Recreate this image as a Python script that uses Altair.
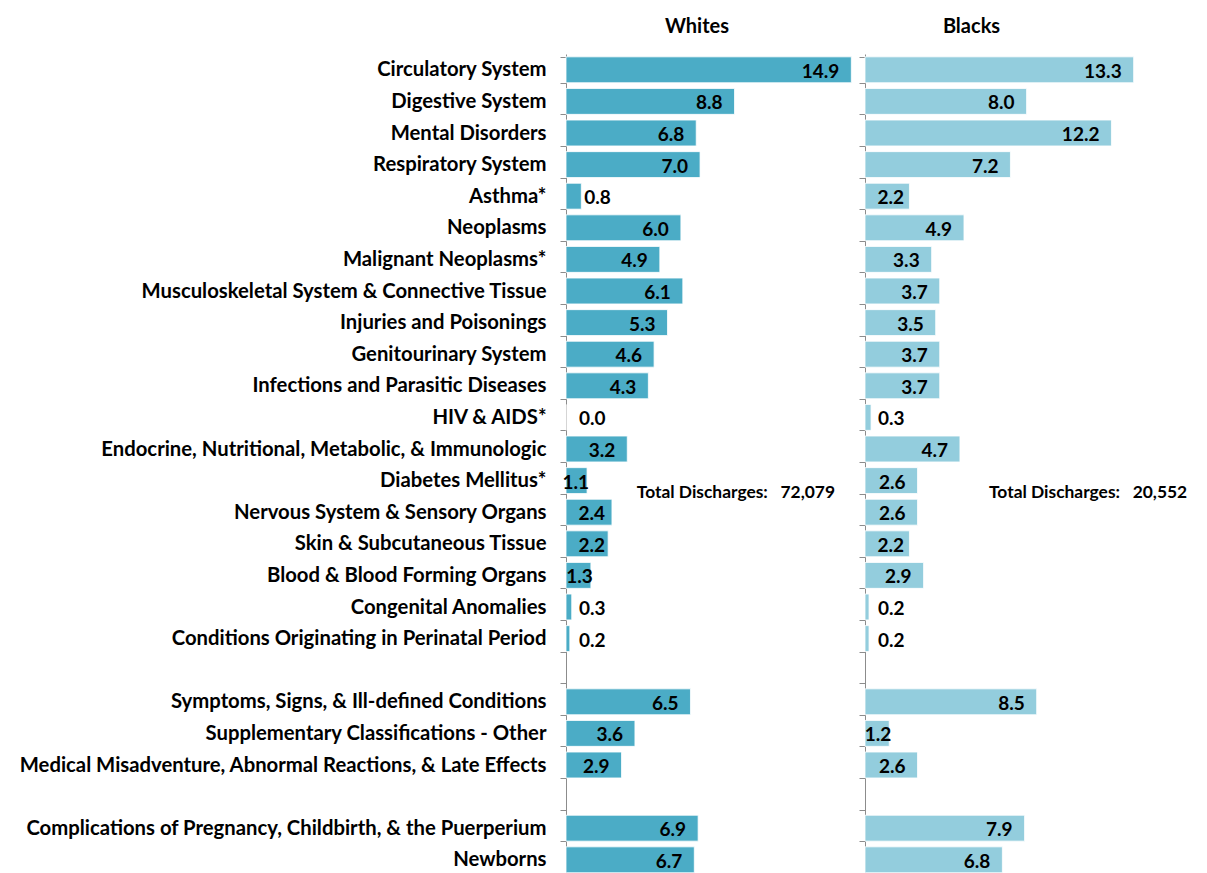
import altair as alt
import pandas as pd

FONT = "Lato"

rows = [
    "Circulatory System", "Digestive System", "Mental Disorders", "Respiratory System",
    "Asthma*", "Neoplasms", "Malignant Neoplasms*",
    "Musculoskeletal System & Connective Tissue", "Injuries and Poisonings",
    "Genitourinary System", "Infections and Parasitic Diseases", "HIV & AIDS*",
    "Endocrine, Nutritional, Metabolic, & Immunologic", "Diabetes Mellitus*",
    "Nervous System & Sensory Organs", "Skin & Subcutaneous Tissue",
    "Blood & Blood Forming Organs", "Congenital Anomalies",
    "Conditions Originating in Perinatal Period", " ",
    "Symptoms, Signs, & Ill-defined Conditions", "Supplementary Classifications - Other",
    "Medical Misadventure, Abnormal Reactions, & Late Effects", "  ",
    "Complications of Pregnancy, Childbirth, & the Puerperium", "Newborns",
]
categories = [r for r in rows if r.strip()]
whites = [14.9, 8.8, 6.8, 7.0, 0.8, 6.0, 4.9, 6.1, 5.3, 4.6, 4.3, 0.0, 3.2, 1.1,
          2.4, 2.2, 1.3, 0.3, 0.2, 6.5, 3.6, 2.9, 6.9, 6.7]
blacks = [13.3, 8.0, 12.2, 7.2, 2.2, 4.9, 3.3, 3.7, 3.5, 3.7, 3.7, 0.3, 4.7, 2.6,
          2.6, 2.2, 2.9, 0.2, 0.2, 8.5, 1.2, 2.6, 7.9, 6.8]
totals = {"Whites": "72,079", "Blacks": "20,552"}

df = pd.DataFrame({"cat": categories, "Whites": whites, "Blacks": blacks})

STEP = 31.6


def panel(col, color, width, ppu, total_x, title_dx, title_dy, show_labels):
    dmax = width / ppu
    yaxis = alt.Axis(
        title=None, labels=show_labels, ticks=True, tickBand="extent", tickSize=6,
        tickColor="#8c8c8c", domainColor="#8c8c8c", domainWidth=1, tickWidth=1,
        labelFont=FONT, labelFontSize=20.3, labelFontWeight="bold", labelColor="#000000",
        labelPadding=14, labelLimit=800,
    )
    y = alt.Y("cat:N", scale=alt.Scale(domain=rows, paddingInner=0.18, paddingOuter=0.09),
              axis=yaxis, sort=rows)
    xscale = alt.Scale(domain=[0, dmax], nice=False, zero=True)
    base = alt.Chart(df).transform_calculate(v=f"datum['{col}']")
    bars = base.mark_bar(color=color, stroke="#ffffff", strokeWidth=0.8).encode(
        x=alt.X("v:Q", scale=xscale, axis=None), y=y)
    tprops = dict(font=FONT, fontSize=19, fontWeight="bold", color="#000000", baseline="middle", dy=2)
    big = base.transform_filter("datum.v >= 2").transform_calculate(
        lx=f"max(datum.v - {12 / ppu}, {39 / ppu})").mark_text(align="right", **tprops).encode(
        x=alt.X("lx:Q", scale=xscale, axis=None), y=y, text=alt.Text("v:Q", format=".1f"))
    mid = base.transform_filter("datum.v >= 1 && datum.v < 2").mark_text(
        align="right", dx=2, **tprops).encode(
        x=alt.X("v:Q", scale=xscale, axis=None), y=y, text=alt.Text("v:Q", format=".1f"))
    small = base.transform_filter("datum.v < 1").transform_calculate(
        lx=f"max(datum.v, {10 / ppu})").mark_text(align="left", dx=3, **tprops).encode(
        x=alt.X("lx:Q", scale=xscale, axis=None), y=y, text=alt.Text("v:Q", format=".1f"))
    tot = alt.Chart(pd.DataFrame({"t": ["Total Discharges:\u00a0\u00a0 " + totals[col]]})).mark_text(
        align="left", baseline="middle", font=FONT, fontSize=17.4, fontWeight="bold",
        color="#000000", dy=12).encode(
        x=alt.XDatum(total_x, type="quantitative", scale=xscale),
        y=alt.YDatum("Diabetes Mellitus*", type="nominal"),
        text="t:N")
    return alt.layer(bars, big, mid, small, tot).properties(
        width=width, height=alt.Step(STEP),
        title=alt.Title(col, font=FONT, fontSize=20, fontWeight="bold", color="#000000",
                        anchor="middle", dx=title_dx, dy=title_dy, offset=14),
    )


left = panel("Whites", "#4BACC6", 290, 19.15, 3.7, -14, 7, True)
right = panel("Blacks", "#93CDDD", 329, 20.2, 6.14, -58, -3, False)

chart = alt.hconcat(left, right, spacing=2).configure_view(stroke=None).properties(
    padding={"left": 10, "top": 9, "right": 5, "bottom": 0})

chart.save("out.html", embed_options={"renderer": "svg", "actions": False})
